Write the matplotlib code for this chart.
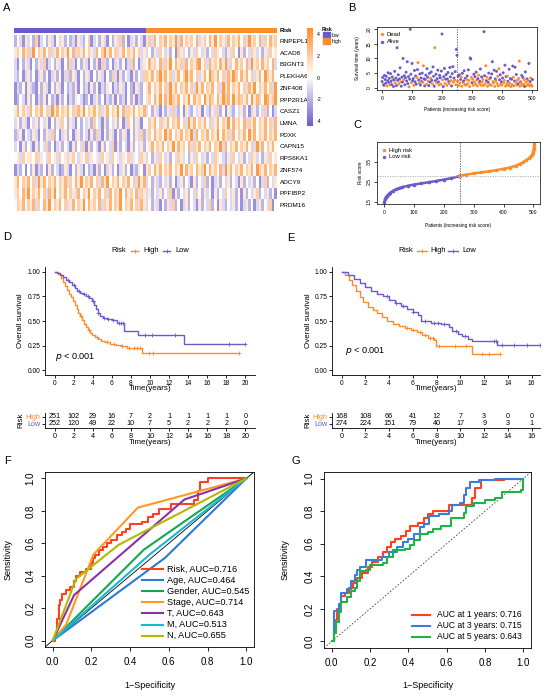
import numpy as np
import matplotlib.pyplot as plt
from matplotlib.colors import LinearSegmentedColormap
from matplotlib.lines import Line2D
from matplotlib.patches import Rectangle

plt.rcParams['font.family'] = ['Liberation Sans', 'DejaVu Sans']
plt.rcParams['axes.linewidth'] = 0.6

W, H = 550, 696
ORANGE = '#FF8C2A'
PURPLE = '#6A5ACD'

# ---------------- A: heatmap, digits 0-8 stand for scaled expression -4..4 ----------------
genes = ['RNPEPL1', 'ACAD8', 'B3GNT3', 'PLEKHA6', 'ZNF408', 'PPP2R1A', 'CASZ1', 'LMNA',
         'PDXK', 'CAPN15', 'RPS6KA1', 'ZNF574', 'ADCY9', 'PPFIBP2', 'PRDM16']
n_low, n_high = 252, 251
expr_low = [
    '24315342613425314352423153246134253142536241352431',
    '56475638465746357465847365746537468574635746574635',
    '31425314253613425314263142531425163241352413624135',
    '32413524135241352413625314253142531426315243152436',
    '13241532142531425314232514231524132541325314215324',
    '12431524132514231524132543124135241325142314251324',
    '57465374657463857465746375846574635746584736574657',
    '34253143524351425364253142435264315243524136425314',
    '23514325314253624135241352431526314253142531425362',
    '34152431524362413524315243615243152436152431524352',
    '45364554635436453645356435463545364536453546354365',
    '13241425132415243125314253142315241352413524132541',
    '57465746385746574657364758465746375846574657463857',
    '56475846574637584657465374658465746374658475647365',
    '46574657364758465746357465847564736574658465746375',
]
expr_high = [
    '56374657465837465647356475846537465746385647364756',
    '34253643524165342536435243654325364152436534253645',
    '47564736584756374657846375647583647564738564756473',
    '65746857463574685746357486574637586475746357486574',
    '57465746385746574638574657463857465746375846574638',
    '56475847586574658475648576475867485765748576487568',
    '34253142536324153243514325362415324352413524362413',
    '46574635746574638574657463574658475647365746574637',
    '56475648574657465837465746584756374657485746574657',
    '45746574658475647365746574658374657465746385746574',
    '34253643524365342536435243654325364352436534253645',
    '56475746574658475647568475647385746574657486574657',
    '34253243524135243152436241352435243152435241362435',
    '35243524361524352436425341524364352415243562435241',
    '34253142536241352431524362415324352413524135243614',
]

# ---------------- B: survival status (every second patient, 12 per row) ----------------
surv_time_rows = [
    '2.1 3.5 1.2 0.8 4.2 2.8 1.5 3.9 0.6 2.4 5.1 1.8',
    '3.2 0.9 4.8 2.2 1.1 3.7 2.9 0.4 2.6 5.6 1.6 3.3',
    '0.7 13.7 2.5 4.4 1.3 3.0 6.8 2.0 0.5 3.6 1.9 10.0',
    '2.7 4.1 1.0 3.4 5.3 2.3 8.9 1.4 3.8 0.3 2.9 20.0',
    '4.6 1.7 8.3 2.4 3.1 0.8 5.9 2.0 4.0 1.2 3.5 6.2',
    '8.6 2.6 1.5 4.7 0.9 3.3 2.1 5.0 1.8 7.5 3.0 0.6',
    '2.8 4.3 1.1 6.5 3.6 2.2 0.7 4.9 1.9 3.2 5.4 2.5',
    '1.3 7.1 3.9 0.5 13.7 2.4 4.6 1.6 3.1 6.0 2.0 0.9',
    '4.2 3.4 1.2 5.7 18.4 2.7 0.4 3.8 6.6 1.5 2.9 4.5',
    '0.8 3.0 5.2 2.1 1.4 6.9 3.7 2.4 0.6 4.8 7.2 1.9',
    '3.3 2.6 5.5 1.0 13.1 11.1 2.2 3.9 0.7 4.4 1.6 2.8',
    '3.6 0.5 4.9 1.8 2.3 5.8 1.1 3.2 0.9 2.7 4.0 1.4',
    '6.1 2.5 0.4 10.2 9.8 3.5 1.7 2.9 0.8 4.6 2.0 3.8',
    '1.2 5.3 2.6 0.6 3.1 4.3 1.5 2.2 6.4 0.9 3.7 1.9',
    '2.8 0.7 19.2 4.1 1.3 7.5 2.4 3.6 0.5 1.8 5.0 2.9',
    '1.0 3.4 0.8 4.7 8.9 2.1 1.6 6.0 0.4 3.0 2.3 5.6',
    '1.4 3.9 0.6 6.5 2.7 4.4 1.1 2.0 0.9 3.3 5.1 1.7',
    '2.5 7.7 0.5 3.8 1.2 4.0 2.2 0.7 6.3 1.5 3.1 0.4',
    '2.9 1.0 7.4 3.6 0.6 2.3 7.0 1.8 4.5 0.9 2.6 1.3',
    '3.2 9.1 0.5 2.0 1.6 4.2 0.8 3.5 1.1 2.7 0.4 5.4',
    '1.9 0.7 3.0 2.4 1.2 8.3 0.6 2.1 3.3 1.0 0.5 2.8',
]
status_rows = [
    'AADAAAAADAAA', 'ADAAAADAAADA', 'AAAADAADAAAA', 'DAAAAAAAADAA', 'ADAAADAAAADA',
    'DADAAAAADDAA', 'AADAADAAADAA', 'DAAADAADAAAD', 'AADAADAAADAA', 'DAAADAADAAAD',
    'ADADAADADADA', 'DDADAADADDAD', 'ADDAADADDADA', 'DADDADDAADAD', 'DDAADDADDAAD',
    'DADAADDADADA', 'DDDDAADADAAD', 'DADADDADADAD', 'ADADDAADADDA', 'DDDADADADDAA',
    'DDADDADADDDA',
]

# ---------------- C: sorted risk score ----------------
risk_rank = [1, 3, 6, 10, 15, 20, 30, 40, 50, 60, 80, 100, 125, 150, 175, 200, 225, 252,
             253, 275, 300, 325, 350, 375, 400, 420, 440, 455, 465, 475, 485, 490, 495, 498,
             500, 501, 502, 503]
risk_score = [1.50, 1.62, 1.72, 1.80, 1.88, 1.95, 2.05, 2.12, 2.18, 2.23, 2.30, 2.36, 2.42,
              2.48, 2.54, 2.61, 2.68, 2.78, 2.80, 2.86, 2.92, 2.97, 3.02, 3.08, 3.15, 3.21,
              3.30, 3.40, 3.48, 3.57, 3.68, 3.75, 3.85, 3.95, 4.02, 4.15, 4.25, 4.38]
risk_cut = 2.80

# ---------------- D / E: Kaplan-Meier ----------------
d_hi_t = [0, 0.4, 0.7, 0.9, 1.1, 1.3, 1.5, 1.7, 1.9, 2.1, 2.3, 2.5, 2.7, 2.9, 3.1, 3.3, 3.5,
          3.7, 3.9, 4.2, 4.5, 4.9, 5.3, 5.8, 6.4, 7.0, 7.6, 8.1, 9.2, 19.3]
d_hi_s = [1, .98, .94, .90, .86, .82, .78, .74, .70, .66, .62, .58, .55, .51, .47, .44, .41,
          .38, .36, .34, .32, .30, .285, .27, .255, .245, .23, .22, .17, .17]
d_lo_t = [0, 0.3, 0.6, 0.9, 1.2, 1.5, 1.8, 2.1, 2.4, 2.7, 3.0, 3.3, 3.6, 3.9, 4.1, 4.3, 4.5,
          4.8, 5.1, 5.5, 6.0, 6.5, 7.3, 8.7, 13.6, 19.9]
d_lo_s = [1, .99, .97, .95, .92, .90, .87, .84, .81, .79, .77, .75, .73, .70, .66, .62, .58,
          .55, .53, .52, .51, .48, .40, .36, .27, .27]
d_hi_cens = [2.8, 3.6, 4.4, 5.5, 6.2, 7.1, 7.8, 8.3, 8.6, 9.0, 9.9, 10.3, 19.3]
d_lo_cens = [1.4, 2.0, 2.6, 3.1, 3.5, 4.0, 4.6, 5.2, 5.6, 6.1, 6.7, 7.0, 7.2, 9.5, 10.2,
             12.6, 18.3, 19.9]
d_ticks = [0, 2, 4, 6, 8, 10, 12, 14, 16, 18, 20]
d_n_hi = [251, 102, 29, 16, 7, 2, 1, 1, 1, 1, 0]
d_n_lo = [252, 120, 49, 22, 10, 7, 5, 2, 2, 2, 0]

e_hi_t = [0, 0.3, 0.6, 0.9, 1.2, 1.5, 1.8, 2.2, 2.6, 3.0, 3.4, 3.8, 4.3, 4.8, 5.3, 5.8, 6.3,
          6.8, 7.3, 7.8, 7.9, 11.0, 13.3]
e_hi_s = [1, .97, .92, .87, .81, .74, .69, .64, .61, .58, .54, .50, .47, .45, .43, .41, .39,
          .36, .33, .31, .25, .16, .16]
e_lo_t = [0, 0.5, 1.0, 1.5, 2.0, 2.5, 3.0, 3.5, 4.0, 4.5, 5.0, 5.5, 6.0, 6.4, 6.7, 7.5, 8.4,
          9.0, 9.3, 9.8, 10.1, 10.6, 11.0, 13.1, 16.7]
e_lo_s = [1, .97, .93, .89, .85, .81, .78, .75, .71, .68, .65, .62, .59, .56, .50, .48, .47,
          .44, .40, .37, .35, .32, .30, .26, .26]
e_hi_cens = [5.5, 6.0, 6.6, 7.0, 7.4, 7.7, 8.2, 9.5, 10.5, 11.8, 12.4, 13.3]
e_lo_cens = [3.8, 4.6, 5.2, 6.0, 7.0, 7.8, 8.1, 8.6, 9.6, 10.4, 12.8, 13.0, 13.5, 14.5,
             15.6, 16.7]
e_ticks = [0, 2, 4, 6, 8, 10, 12, 14, 16]
e_n_hi = [168, 108, 66, 41, 12, 7, 3, 0, 0]
e_n_lo = [274, 224, 151, 79, 40, 17, 9, 3, 1]

# ---------------- F: ROC of clinical features ----------------
roc_f = [
    ('Risk, AUC=0.716', '#FF4022', True,
     [0, 0.01, 0.02, 0.03, 0.04, 0.05, 0.07, 0.09, 0.11, 0.12, 0.14, 0.17, 0.20, 0.21, 0.22,
      0.24, 0.26, 0.28, 0.30, 0.33, 0.36, 0.38, 0.40, 0.42, 0.46, 0.49, 0.52, 0.55, 0.61,
      0.66, 0.71, 0.73, 0.75, 0.76, 0.80, 1.0],
     [0, 0.03, 0.13, 0.22, 0.25, 0.29, 0.31, 0.33, 0.37, 0.40, 0.42, 0.44, 0.48, 0.51, 0.53,
      0.56, 0.58, 0.60, 0.62, 0.65, 0.67, 0.69, 0.72, 0.72, 0.73, 0.76, 0.78, 0.81, 0.84,
      0.84, 0.84, 0.87, 0.92, 0.98, 1.0, 1.0]),
    ('Age, AUC=0.464', '#2B7BD2', False, [0, 0.58, 1], [0, 0.51, 1]),
    ('Gender, AUC=0.545', '#14A84B', False, [0, 0.47, 1], [0, 0.56, 1]),
    ('Stage, AUC=0.714', '#FF9A1F', False, [0, 0.07, 0.21, 0.44, 1], [0, 0.10, 0.53, 0.82, 1]),
    ('T, AUC=0.643', '#8E2FA8', False, [0, 0.11, 0.68, 1], [0, 0.28, 0.87, 1]),
    ('M, AUC=0.513', '#1BB6D4', False, [0, 0.50, 1], [0, 0.53, 1]),
    ('N, AUC=0.655', '#B5B800', False, [0, 0.12, 0.34, 1], [0, 0.38, 0.59, 1]),
]

# ---------------- G: time-dependent ROC ----------------
roc_g = [
    ('AUC at 1 years: 0.716', '#FF4022',
     [0, 0.01, 0.02, 0.03, 0.04, 0.05, 0.07, 0.09, 0.11, 0.13, 0.16, 0.19, 0.21, 0.24, 0.27,
      0.29, 0.31, 0.33, 0.36, 0.39, 0.41, 0.45, 0.48, 0.50, 0.53, 0.61, 0.70, 0.73, 0.75,
      0.78, 0.90, 1.0],
     [0, 0.05, 0.13, 0.20, 0.23, 0.28, 0.30, 0.33, 0.36, 0.39, 0.42, 0.46, 0.49, 0.52, 0.55,
      0.58, 0.61, 0.63, 0.65, 0.68, 0.71, 0.73, 0.76, 0.78, 0.80, 0.84, 0.84, 0.88, 0.94,
      0.99, 1.0, 1.0]),
    ('AUC at 3 years: 0.715', '#3C7DD9',
     [0, 0.01, 0.03, 0.04, 0.05, 0.08, 0.10, 0.12, 0.13, 0.15, 0.18, 0.26, 0.30, 0.34, 0.37,
      0.40, 0.43, 0.46, 0.48, 0.51, 0.56, 0.61, 0.63, 0.67, 0.69, 0.70, 0.72, 0.77, 0.85, 1.0],
     [0, 0.19, 0.19, 0.23, 0.30, 0.32, 0.37, 0.41, 0.44, 0.46, 0.50, 0.52, 0.55, 0.58, 0.61,
      0.63, 0.66, 0.70, 0.72, 0.77, 0.78, 0.80, 0.84, 0.85, 0.90, 0.94, 0.98, 0.99, 1.0, 1.0]),
    ('AUC at 5 years: 0.643', '#1DB446',
     [0, 0.01, 0.02, 0.04, 0.05, 0.08, 0.10, 0.12, 0.13, 0.15, 0.18, 0.20, 0.27, 0.29, 0.32,
      0.38, 0.41, 0.43, 0.46, 0.50, 0.53, 0.57, 0.62, 0.69, 0.70, 0.74, 0.80, 0.85, 0.89,
      0.99, 1.0],
     [0, 0.05, 0.12, 0.18, 0.24, 0.27, 0.31, 0.33, 0.37, 0.43, 0.44, 0.47, 0.48, 0.52, 0.56,
      0.57, 0.59, 0.62, 0.66, 0.67, 0.69, 0.71, 0.76, 0.79, 0.83, 0.85, 0.87, 0.88, 0.92,
      0.93, 1.0]),
]


def fbox(x0, y0, x1, y1):
    return [x0 / W, 1 - y1 / H, (x1 - x0) / W, (y1 - y0) / H]


fig = plt.figure(figsize=(W / 100, H / 100), dpi=100)


def ftext(x, y, s, **kw):
    fig.text(x / W, 1 - y / H, s, **kw)


for lab, x, y in [('A', 3, 8), ('B', 348, 8), ('C', 353, 125), ('D', 3, 237),
                  ('E', 287, 238), ('F', 4, 461), ('G', 292, 461)]:
    ftext(x, y, lab, fontsize=8, va='center', ha='left')

# ---------- A ----------
cmap = LinearSegmentedColormap.from_list('po', [PURPLE, 'white', ORANGE])
n_all = n_low + n_high
axr = fig.add_axes(fbox(14, 28, 277, 33))
axr.barh(0, n_low, left=0, height=1, color=PURPLE)
axr.barh(0, n_high, left=n_low, height=1, color=ORANGE)
axr.set_xlim(0, n_all)
axr.set_ylim(-0.5, 0.5)
axr.set_xticks([])
axr.yaxis.tick_right()
axr.set_yticks([0])
axr.set_yticklabels(['Risk'], fontsize=4.2, fontweight='bold')
axr.tick_params(length=0, pad=2)
for sp in axr.spines.values():
    sp.set_visible(False)

axh = fig.add_axes(fbox(14, 35, 277, 211))
for r, (lo, hi) in enumerate(zip(expr_low, expr_high)):
    for s, a, b in ((lo, 0, n_low), (hi, n_low, n_all)):
        vals = np.array([int(c) - 4 for c in s], dtype=float)
        edges = np.linspace(a, b, len(vals) + 1)
        qm = axh.pcolormesh(edges, [r, r + 1], vals[None, :], cmap=cmap, vmin=-4.5, vmax=4.6,
                            shading='flat', edgecolors='none', antialiased=False)
axh.set_xlim(0, n_all)
axh.set_ylim(len(genes), 0)
axh.set_xticks([])
axh.yaxis.tick_right()
axh.set_yticks(np.arange(len(genes)) + 0.5)
axh.set_yticklabels(genes, fontsize=4.6)
axh.tick_params(length=0, pad=2)
for sp in axh.spines.values():
    sp.set_visible(False)

cax = fig.add_axes(fbox(307, 28, 313, 126))
cb = fig.colorbar(qm, cax=cax, ticks=[4, 2, 0, -2, -4])
cb.outline.set_visible(False)
cb.ax.tick_params(length=0, labelsize=3.8, pad=2.5)
cb.ax.set_yticklabels(['4', '2', '0', '-2', '-4'])

ftext(322, 29.5, 'Risk', fontsize=3.6, fontweight='bold', va='center')
for y0, col, lab in ((32.5, PURPLE, 'low'), (38.3, ORANGE, 'high')):
    fig.add_artist(Rectangle((323 / W, 1 - (y0 + 5.8) / H), 7 / W, 5.8 / H,
                             transform=fig.transFigure, color=col))
    ftext(332, y0 + 2.9, lab, fontsize=3.6, va='center')

# ---------- B ----------
axb = fig.add_axes(fbox(377, 27, 537, 90))
pts_x, pts_y, pts_c = [], [], []
for k, (trow, srow) in enumerate(zip(surv_time_rows, status_rows)):
    for j, (tv, st) in enumerate(zip(trow.split(), srow)):
        pts_x.append(24 * k + 2 * j + 1)
        pts_y.append(float(tv))
        pts_c.append(ORANGE if st == 'D' else PURPLE)
axb.scatter(pts_x, pts_y, s=4.5, c=pts_c, linewidths=0)
axb.axvline(n_low + 0.5, color='#555555', ls=(0, (1.5, 1.5)), lw=0.6)
axb.set_xlim(-16, 518)
axb.set_ylim(-0.8, 20.8)
axb.set_xticks([0, 100, 200, 300, 400, 500])
axb.set_yticks([0, 5, 10, 15, 20])
axb.tick_params(labelsize=3.6, length=2, width=0.5, pad=2)
plt.setp(axb.get_yticklabels(), rotation=90, va='center')
for sp in axb.spines.values():
    sp.set_linewidth(0.5)
for y, col, lab in ((0.885, ORANGE, 'Dead'), (0.765, PURPLE, 'Alive')):
    axb.scatter([0.03], [y], s=6, c=col, linewidths=0, transform=axb.transAxes)
    axb.text(0.06, y, lab, fontsize=4.2, va='center', transform=axb.transAxes)
ftext(457, 109, 'Patients (increasing risk score)', fontsize=3.4, ha='center', va='center')
ftext(357, 58, 'Survival time (years)', fontsize=3.4, ha='center', va='center', rotation=90)

# ---------- C ----------
axc = fig.add_axes(fbox(377, 142, 540, 204))
rk = np.array(risk_rank)
sc = np.array(risk_score)
low = rk <= n_low
axc.plot(rk[low], sc[low], '-o', color=PURPLE, lw=1.8, ms=1.6)
axc.plot(rk[~low], sc[~low], '-o', color=ORANGE, lw=1.8, ms=1.6)
axc.axvline(n_low + 0.5, color='#555555', ls=(0, (1.5, 1.5)), lw=0.6)
axc.axhline(risk_cut, color='#AAAAAA', ls=(0, (1.5, 1.5)), lw=0.6)
axc.set_xlim(-24, 522)
axc.set_ylim(1.385, 4.495)
axc.set_xticks([0, 100, 200, 300, 400, 500])
axc.set_yticks([1.5, 2.5, 3.5])
axc.tick_params(labelsize=3.6, length=2, width=0.5, pad=2)
plt.setp(axc.get_yticklabels(), rotation=90, va='center')
for sp in axc.spines.values():
    sp.set_linewidth(0.5)
for y, col, lab in ((0.867, ORANGE, 'High risk'), (0.76, PURPLE, 'Low risk')):
    axc.scatter([0.04], [y], s=6, c=col, linewidths=0, transform=axc.transAxes)
    axc.text(0.075, y, lab, fontsize=4.2, va='center', transform=axc.transAxes)
ftext(458, 226, 'Patients (increasing risk score)', fontsize=3.4, ha='center', va='center')
ftext(361, 173, 'Risk score', fontsize=3.4, ha='center', va='center', rotation=90)


# ---------- D / E ----------
def km_panel(box, xlim, ticks, curves, ylab_x, p_xy, legend_x):
    ax = fig.add_axes(fbox(*box))
    for t, s, cens, col in curves:
        ax.step(t, s, where='post', color=col, lw=1.0)
        idx = np.searchsorted(t, cens, side='right') - 1
        ax.plot(cens, np.array(s)[idx], '+', color=col, ms=3, mew=0.6)
    ax.set_xlim(*xlim)
    ax.set_ylim(-0.05, 1.05)
    ax.set_xticks(ticks)
    ax.set_yticks([0, 0.25, 0.5, 0.75, 1.0])
    ax.set_yticklabels(['0.00', '0.25', '0.50', '0.75', '1.00'])
    ax.tick_params(labelsize=4.8, length=2, width=0.6, pad=1.5)
    ax.spines['top'].set_visible(False)
    ax.spines['right'].set_visible(False)
    cx = (box[0] + box[2]) / 2
    ftext(cx, 389, 'Time(years)', fontsize=5.8, ha='center', va='center')
    ftext(ylab_x, 321, 'Overall survival', fontsize=5.8, ha='center', va='center', rotation=90)
    ftext(p_xy[0], p_xy[1], r'$\it{p}$ < 0.001', fontsize=6.6, va='center')
    # legend row
    lx = legend_x
    ftext(lx[0], 251, 'Risk', fontsize=5.4, va='center')
    for (a, b, tx), col, lab in ((lx[1], ORANGE, 'High'), (lx[2], PURPLE, 'Low')):
        fig.add_artist(Line2D([a / W, b / W], [1 - 251 / H, 1 - 251 / H], color=col, lw=1.0,
                              transform=fig.transFigure))
        fig.add_artist(Line2D([(a + b) / 2 / W], [1 - 251 / H], color=col, marker='+', ms=3,
                              mew=0.6, transform=fig.transFigure))
        ftext(tx, 251, lab, fontsize=5.4, va='center')
    return ax


def risk_table(box, xlim, ticks, n_hi, n_lo, risk_x):
    ax = fig.add_axes(fbox(*box))
    for t, a, b in zip(ticks, n_hi, n_lo):
        ax.text(t, 2, str(a), fontsize=5.2, ha='center', va='center')
        ax.text(t, 1, str(b), fontsize=5.2, ha='center', va='center')
    ax.set_xlim(*xlim)
    ax.set_ylim(0.4, 2.6)
    ax.set_xticks(ticks)
    ax.set_yticks([1, 2])
    ax.set_yticklabels(['Low', 'High'])
    for lbl, col in zip(ax.get_yticklabels(), [PURPLE, ORANGE]):
        lbl.set_color(col)
    ax.tick_params(labelsize=5.2, length=2, width=0.6, pad=1.5)
    ax.spines['top'].set_visible(False)
    ax.spines['right'].set_visible(False)
    cx = (box[0] + box[2]) / 2
    ftext(cx, 443, 'Time(years)', fontsize=5.8, ha='center', va='center')
    ftext(risk_x, 420, 'Risk', fontsize=5.8, ha='center', va='center', rotation=90)
    return ax


km_panel((45, 267, 255, 375), (-1, 21), d_ticks,
         [(d_hi_t, d_hi_s, d_hi_cens, ORANGE), (d_lo_t, d_lo_s, d_lo_cens, PURPLE)],
         21, (55, 357), (111, (131, 138, 143), (163, 170, 175)))
risk_table((45, 412.6, 255, 428), (-1, 21), d_ticks, d_n_hi, d_n_lo, 21)

km_panel((332, 267, 540, 375), (-0.82, 16.7), e_ticks,
         [(e_hi_t, e_hi_s, e_hi_cens, ORANGE), (e_lo_t, e_lo_s, e_lo_cens, PURPLE)],
         308, (345, 351), (398, (417, 427, 430), (448, 458, 462)))
risk_table((332, 412.6, 540, 428), (-0.82, 16.7), e_ticks, e_n_hi, e_n_lo, 308)


# ---------- F / G ----------
def roc_axes(box):
    ax = fig.add_axes(fbox(*box))
    ax.set_xlim(-0.04, 1.04)
    ax.set_ylim(-0.04, 1.04)
    ticks = [0, 0.2, 0.4, 0.6, 0.8, 1.0]
    ax.set_xticks(ticks)
    ax.set_yticks(ticks)
    ax.set_xticklabels(['0.0', '0.2', '0.4', '0.6', '0.8', '1.0'])
    ax.set_yticklabels(['0.0', '0.2', '0.4', '0.6', '0.8', '1.0'])
    ax.tick_params(labelsize=7, length=3, width=0.6, pad=4)
    plt.setp(ax.get_yticklabels(), rotation=90, va='center')
    for sp in ax.spines.values():
        sp.set_linewidth(0.6)
    cx = (box[0] + box[2]) / 2
    ftext(cx, 686, '1\u2212Specificity', fontsize=6.5, ha='center', va='center')
    return ax


axf = roc_axes((45, 472, 254, 647))
axf.plot([-0.04, 1.04], [-0.04, 1.04], color='black', lw=0.6)
for lab, col, steps, fx, fy in roc_f:
    axf.plot(fx, fy, color=col, lw=1.5, drawstyle='steps-post' if steps else 'default')
for k, (lab, col, steps, fx, fy) in enumerate(roc_f):
    y = 0.446 - k * 0.0636
    axf.add_line(Line2D([0.464, 0.565], [y, y], color=col, lw=1.5, transform=axf.transAxes))
    axf.text(0.584, y, lab, fontsize=6.6, va='center', transform=axf.transAxes)
ftext(8, 560, 'Sensitivity', fontsize=6.5, ha='center', va='center', rotation=90)

axg = roc_axes((324, 472, 531, 648))
axg.plot([-0.04, 1.04], [-0.04, 1.04], color='#444444', lw=0.6, ls=(0, (2, 2)))
for lab, col, gx, gy in roc_g:
    axg.plot(gx, gy, color=col, lw=1.5, drawstyle='steps-post')
for k, (lab, col, gx, gy) in enumerate(roc_g):
    y = 0.188 - k * 0.0625
    axg.add_line(Line2D([0.425, 0.512], [y, y], color=col, lw=1.5, transform=axg.transAxes))
    axg.text(0.546, y, lab, fontsize=6.2, va='center', transform=axg.transAxes)
ftext(285, 560, 'Sensitivity', fontsize=6.5, ha='center', va='center', rotation=90)

fig.savefig('out.png', dpi=100)
